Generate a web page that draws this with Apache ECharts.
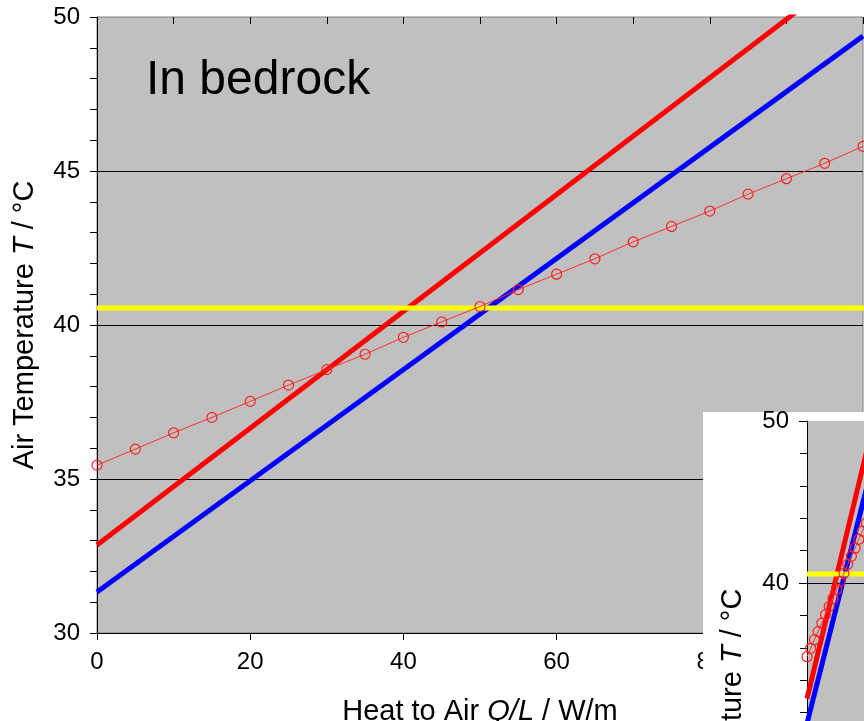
<!DOCTYPE html>
<html>
<head>
<meta charset="utf-8">
<script src="https://cdn.jsdelivr.net/npm/echarts@6/dist/echarts.min.js"></script>
<style>
html,body{margin:0;padding:0;background:#fff;}
#c{width:864px;height:721px;}
</style>
</head>
<body>
<div id="c"></div>
<script>
// ---- data ----
var heatX = [0,5,10,15,20,25,30,35,40,45,50,55,60,65,70,75,80,85,90,95,100];
var circleTemp = [35.45,35.97,36.5,37.0,37.52,38.05,38.55,39.05,39.6,40.1,40.6,41.15,41.65,42.15,42.7,43.2,43.7,44.25,44.75,45.25,45.8];
var redLineX = [0,100];
var redLineT = [32.86,51.82];
var blueLineX = [0,100];
var blueLineT = [31.33,49.38];
var yellowX = [0,1000];
var yellowT = [40.55,40.55];
var xTicks = [0,20,40,60,80,100];
var yTicks = [30,35,40,45,50];
var titleText = 'In bedrock';

function pairs(xs, ys){ return xs.map(function(x,i){ return [x, ys[i]]; }); }

var FONT = "'Liberation Sans', Arial, sans-serif";
var chart = echarts.init(document.getElementById('c'), null, {renderer:'canvas'});

function seriesFor(xi, yi, z){
  return [
    {type:'line', xAxisIndex:xi, yAxisIndex:yi, data:pairs(redLineX, redLineT), showSymbol:false, symbol:'none',
     lineStyle:{color:'#ff0000', width:5}, z:z, animation:false, clip:true},
    {type:'line', xAxisIndex:xi, yAxisIndex:yi, data:pairs(blueLineX, blueLineT), showSymbol:false, symbol:'none',
     lineStyle:{color:'#0000ff', width:5}, z:z+1, animation:false, clip:true},
    {type:'line', xAxisIndex:xi, yAxisIndex:yi, data:pairs(yellowX, yellowT), showSymbol:false, symbol:'none',
     lineStyle:{color:'#ffff00', width:5}, z:z+2, animation:false, clip:true},
    {type:'line', xAxisIndex:xi, yAxisIndex:yi, data:pairs(heatX, circleTemp), symbol:'circle', symbolSize:10, showSymbol:true,
     lineStyle:{color:'#ff3030', width:1}, itemStyle:{color:'transparent', borderColor:'#ff2020', borderWidth:1.2},
     z:z+3, animation:false, clip:true}
  ];
}

var yName = 'Air Temperature {i|T} / °C';
var nameStyle = {fontFamily:FONT, fontSize:29, color:'#000', rich:{i:{fontFamily:FONT, fontSize:29, fontStyle:'italic', color:'#000'}}};
var insetNameStyle = Object.assign({}, nameStyle, {padding:[0,0,0,24]});
var labelStyle = {fontFamily:FONT, fontSize:24, color:'#000'};

var option = {
  animation:false,
  backgroundColor:'#ffffff',
  grid:[
    {left:97, top:17, width:766, height:616, show:true, backgroundColor:'#c0c0c0', borderColor:'#808080', borderWidth:1, z:0,
     outerBoundsMode:'none', containLabel:false},
    {left:807, top:421, width:740, height:648, show:true, backgroundColor:'#c0c0c0', borderColor:'#808080', borderWidth:0, z:60,
     outerBoundsMode:'none', containLabel:false}
  ],
  xAxis:[
    {gridIndex:0, type:'value', min:xTicks[0], max:xTicks[xTicks.length-1], interval:20,
     axisLine:{show:true, onZero:false, lineStyle:{color:'#000', width:1}},
     axisTick:{show:true, inside:false, length:7, lineStyle:{color:'#000'}},
     axisLabel:Object.assign({margin:17}, labelStyle),
     splitLine:{show:false},
     name:'Heat to Air {i|Q/L} / W/m', nameLocation:'middle', nameGap:64, nameTextStyle:nameStyle, z:1},
    {gridIndex:0, type:'value', min:0, max:100, interval:10,
     axisLine:{show:false}, axisTick:{show:true, inside:true, length:7, lineStyle:{color:'#000'}},
     axisLabel:{show:false}, splitLine:{show:false}, z:1},
    {gridIndex:1, type:'value', min:0, max:1000, show:false}
  ],
  yAxis:[
    {gridIndex:0, type:'value', min:yTicks[0], max:yTicks[yTicks.length-1], interval:5,
     axisLine:{show:true, onZero:false, lineStyle:{color:'#000', width:1}},
     axisTick:{show:true, inside:false, length:7, lineStyle:{color:'#000'}},
     axisLabel:Object.assign({margin:17}, labelStyle),
     splitLine:{show:true, showMinLine:false, showMaxLine:false, lineStyle:{color:'#000', width:1}},
     name:yName, nameLocation:'middle', nameGap:58, nameTextStyle:nameStyle, z:1},
    {gridIndex:0, type:'value', min:30, max:50, interval:1,
     axisLine:{show:false}, axisTick:{show:true, inside:true, length:7, lineStyle:{color:'#000'}},
     axisLabel:{show:false}, splitLine:{show:false}, z:1},
    {gridIndex:1, type:'value', min:10, max:50, interval:10,
     axisLine:{show:true, onZero:false, lineStyle:{color:'#000', width:1}},
     axisTick:{show:true, inside:false, length:8, lineStyle:{color:'#000'}},
     axisLabel:Object.assign({margin:18}, labelStyle),
     splitLine:{show:true, showMinLine:false, showMaxLine:false, lineStyle:{color:'#000', width:1}},
     name:yName, nameLocation:'middle', nameGap:60, nameTextStyle:insetNameStyle, z:61},
    {gridIndex:1, type:'value', min:10, max:50, interval:2,
     axisLine:{show:false}, axisTick:{show:true, inside:true, length:7, lineStyle:{color:'#000'}},
     axisLabel:{show:false}, splitLine:{show:false}, z:61}
  ],
  graphic:[
    {type:'text', left:146, top:57, z:5, style:{text:titleText, fontFamily:FONT, fontSize:48, fill:'#000'}},
    {type:'rect', shape:{x:703, y:412, width:200, height:320}, style:{fill:'#ffffff'}, z:50}
  ],
  series: seriesFor(0,0,2).concat(seriesFor(2,2,62))
};
chart.setOption(option);
</script>
</body>
</html>
